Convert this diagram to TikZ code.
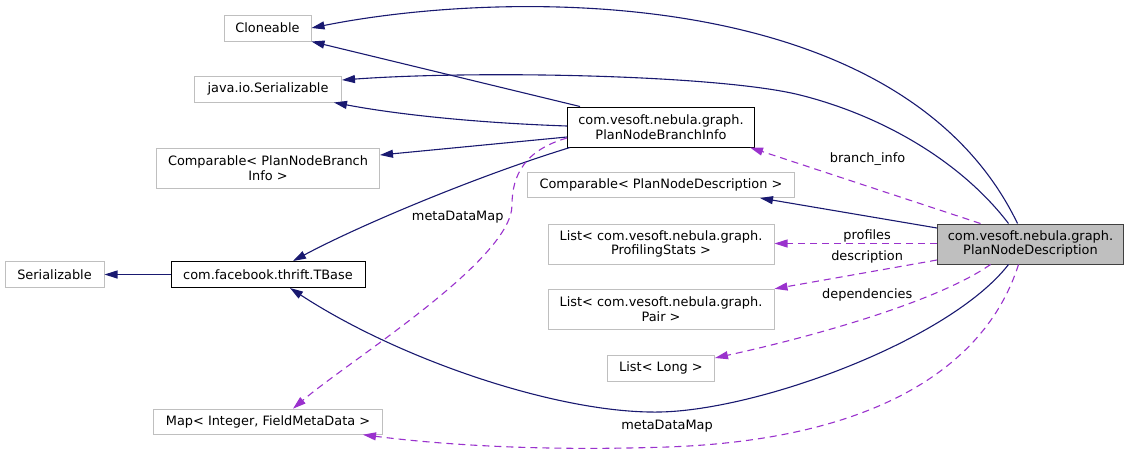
\documentclass[tikz,border=0pt]{standalone}
\usepackage{fontspec}
\setmainfont{DejaVu Sans}
\usepackage{xcolor}
\usetikzlibrary{arrows.meta,positioning,calc}
\definecolor{navyedge}{HTML}{191970}
\definecolor{orchidedge}{HTML}{9A32CD}
\definecolor{boxgray}{HTML}{BFBFBF}

\begin{document}
\begin{tikzpicture}[x=1pt,y=-1pt,
  ext/.style={rectangle,draw=boxgray,fill=white,align=center,inner sep=0pt,
              line width=1pt,font=\fontsize{12.9}{14.5}\selectfont},
  cls/.style={ext,draw=black},
  cur/.style={ext,draw=black!75,fill=boxgray},
  inh/.style={-{Triangle[length=13pt,width=8pt]},line width=1.1pt,navyedge},
  use/.style={-{Triangle[length=13pt,width=8pt]},line width=1.1pt,orchidedge,
              dash pattern=on 7pt off 5pt},
  lab/.style={font=\fontsize{12.9}{14.5}\selectfont,text=black,inner sep=1pt}
]
\useasboundingbox (0,0) rectangle (1129,453);

% left column
\node[ext,minimum width=87pt,minimum height=26pt] (clone) at (267.5,28) {Cloneable};
\node[ext,minimum width=147pt,minimum height=26pt] (jser) at (268,89) {java.io.Serializable};
\node[ext,minimum width=223pt,minimum height=40pt] (cmpbi) at (268,168) {Comparable< PlanNodeBranch\\Info >};
\node[ext,minimum width=99pt,minimum height=26pt] (ser) at (54.5,274.5) {Serializable};
\node[cls,minimum width=194pt,minimum height=26pt] (tbase) at (268,274.5) {com.facebook.thrift.TBase};
\node[ext,minimum width=229pt,minimum height=25pt] (map) at (268,421.7) {Map< Integer, FieldMetaData >};

% middle column
\node[cls,minimum width=187pt,minimum height=40pt] (branch) at (661,127) {com.vesoft.nebula.graph.\\PlanNodeBranchInfo};
\node[ext,minimum width=267pt,minimum height=25pt] (cmpdesc) at (661,185) {Comparable< PlanNodeDescription >};
\node[ext,minimum width=226pt,minimum height=40pt] (lprof) at (661,244) {List< com.vesoft.nebula.graph.\\ProfilingStats >};
\node[ext,minimum width=226pt,minimum height=40pt] (lpair) at (661,309.3) {List< com.vesoft.nebula.graph.\\Pair >};
\node[ext,minimum width=107pt,minimum height=26pt] (llong) at (661,368) {List< Long >};

% the class itself
\node[cur,minimum width=186pt,minimum height=40pt] (desc) at (1030.5,244) {com.vesoft.nebula.graph.\\PlanNodeDescription};

% inheritance
\draw[inh] ([xshift=-13pt]desc.north) .. controls (900,-20) and (500,-10) .. (clone.east);
\draw[inh] ([xshift=-22pt]desc.north) .. controls (960,160) and (880,115) .. (800,95)
  .. controls (720,75) and (480,70) .. ([yshift=9pt]jser.east);
\draw[inh] ([xshift=-81pt]branch.north) -- (clone.south east);
\draw[inh] ([yshift=1pt]branch.west) .. controls (480,123) and (400,115) .. ([xshift=-8pt]jser.south east);
\draw[inh] ([yshift=-10pt]branch.west) -- ([yshift=13pt]cmpbi.east);
\draw[inh] ([xshift=-91pt]branch.south) .. controls (480,175) and (360,225) .. ([xshift=25pt]tbase.north);
\draw[inh] (tbase) -- (ser);
\draw[inh] ([yshift=16pt]desc.west) -- ([xshift=99pt]cmpdesc.south);
\draw[inh] ([xshift=-22pt]desc.south) .. controls (950,340) and (760,410) .. (660,412)
  .. controls (560,414) and (400,360) .. ([xshift=22pt]tbase.south);

% members
\draw[use] ([xshift=-50pt]desc.north) -- node[lab,pos=0.49,yshift=27pt] {branch\_info} ([xshift=89pt]branch.south);
\draw[use] ([yshift=0.5pt]desc.west) -- node[lab,pos=0.43,yshift=7.5pt] {profiles} ([yshift=0.5pt]lprof.east);
\draw[use] ([yshift=-16pt]desc.west) -- node[lab,pos=0.43,yshift=15.5pt] {description} (lpair.north east);
\draw[use] ([xshift=-40pt]desc.south) .. controls (940,300) and (820,335) ..
  node[lab,pos=0.52,yshift=23pt] {dependencies} ([yshift=10pt]llong.east);
\draw[use] ([xshift=-12pt]desc.south) .. controls (985,370) and (870,440) .. (667,447)
  node[lab,yshift=21pt] {metaDataMap}
  .. controls (520,452) and (420,442) .. ([xshift=95pt]map.south);
\draw[use] ([yshift=-11pt]branch.west) .. controls (525,150) and (512,175) .. (512,205)
  .. controls (512,260) and (350,360) .. node[lab,pos=0.07,xshift=-52pt] {metaDataMap} ([xshift=25pt]map.north);
\end{tikzpicture}
\end{document}
